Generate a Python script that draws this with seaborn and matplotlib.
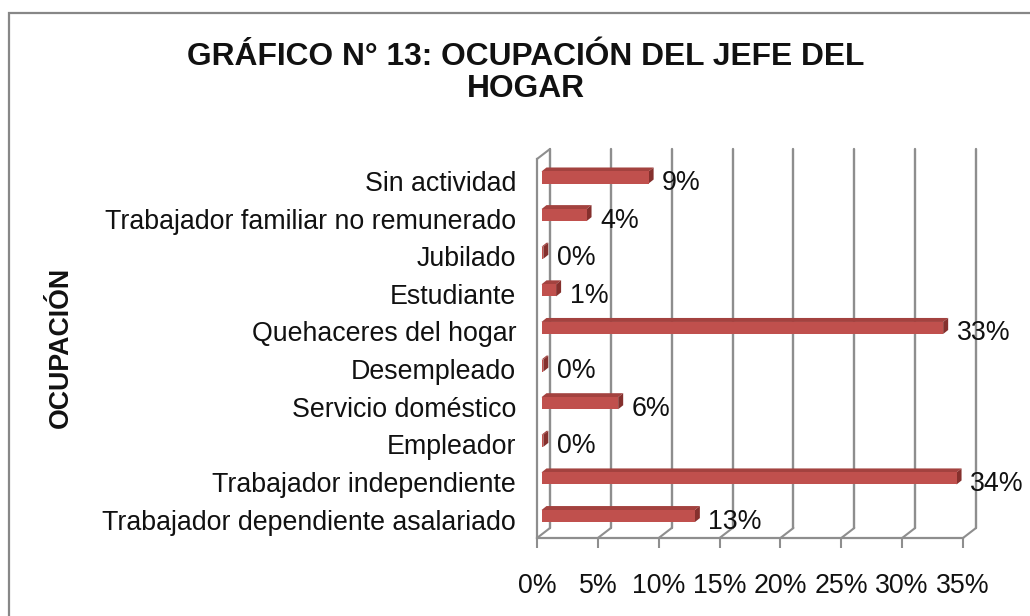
# ======== IMPORTS ========
import matplotlib
matplotlib.use("Agg")
import matplotlib.pyplot as plt
from matplotlib.patches import Polygon, Rectangle
from matplotlib.lines import Line2D
import numpy as np
import pandas as pd
import seaborn as sns

# ======== DATA ========
categories = [
    "Sin actividad",
    "Trabajador familiar no remunerado",
    "Jubilado",
    "Estudiante",
    "Quehaceres del hogar",
    "Desempleado",
    "Servicio doméstico",
    "Empleador",
    "Trabajador independiente",
    "Trabajador dependiente asalariado",
]
percentages = [8.8, 3.7, 0.15, 1.2, 33.0, 0.15, 6.3, 0.15, 34.1, 12.6]
x_ticks = [0, 5, 10, 15, 20, 25, 30, 35]

title_text = "GRÁFICO N° 13: OCUPACIÓN DEL JEFE DEL\nHOGAR"
ylabel_text = "OCUPACIÓN"

# ======== STYLE ========
sns.set_theme(style="white")
plt.rcParams["font.family"] = ["Liberation Sans", "DejaVu Sans"]

FRONT = "#C0504D"
TOP = "#A3423F"
SIDE = "#85302D"
GRID = "#8E8E8E"
FS = 19.3

WALL_DX, WALL_DY = 13, 10   # depth of the chart walls (pixels)
BAR_DX, BAR_DY = 4.5, 3.5   # where bars sit inside the depth
DEPTH_DX, DEPTH_DY = 5, 4   # depth of each bar

df = pd.DataFrame({"ocupacion": categories, "pct": percentages})

fig = plt.figure(figsize=(10.3, 6.16), dpi=100)
W, H = 1030, 616
ax = fig.add_axes([537 / W, 1 - 538 / H, 426 / W, 379 / H])

sns.barplot(data=df, x="pct", y="ocupacion", orient="h", color=FRONT,
            saturation=1, width=0.32, ax=ax, zorder=5)
ax.set_xlim(0, 35)
ax.set_ylim(9.49, -0.585)
ax.set_xlabel("")
ax.set_ylabel("")
ax.grid(False)
ax.set_facecolor("none")


def to_data(px, py):
    inv = ax.transData.inverted()
    pts = inv.transform(np.column_stack([px, py]))
    return pts[:, 0], pts[:, 1]


def to_disp(x, y):
    pts = ax.transData.transform(np.column_stack([x, y]))
    return pts[:, 0], pts[:, 1]


# ======== WALLS / GRIDLINES ========
y_floor, y_top = ax.get_ylim()
for t in x_ticks:
    fx, fy = to_disp([t, t], [y_floor, y_top])
    bx, by = to_data(fx + WALL_DX, fy + WALL_DY)
    ax.add_line(Line2D(bx, by, color=GRID, lw=1.7, clip_on=False, zorder=1))
    dx_, dy_ = to_data([fx[0], fx[0] + WALL_DX], [fy[0], fy[0] + WALL_DY])
    ax.add_line(Line2D(dx_, dy_, color=GRID, lw=1.5, clip_on=False, zorder=1))
# top-left corner of the side wall
fx, fy = to_disp([0, 0], [y_top, y_top])
cx, cy = to_data([fx[0], fx[0] + WALL_DX], [fy[0], fy[0] + WALL_DY])
ax.add_line(Line2D(cx, cy, color=GRID, lw=1.5, clip_on=False, zorder=1))

# ======== 3D BARS ========
for p in list(ax.patches):
    x0, y0 = p.get_x(), p.get_y()
    x1, y1 = x0 + p.get_width(), y0 + p.get_height()
    px, py = to_disp([x0, x1], [y0, y1])
    px = px + BAR_DX
    py = py + BAR_DY
    left, right = px.min(), px.max()
    bot, top = py.min(), py.max()
    # shift the front face
    fxd, fyd = to_data([left, right], [bot, top])
    p.set_x(fxd[0])
    p.set_width(fxd[1] - fxd[0])
    p.set_y(min(fyd))
    p.set_height(abs(fyd[1] - fyd[0]))
    p.set_edgecolor("none")
    top_x = [left, right, right + DEPTH_DX, left + DEPTH_DX]
    top_y = [top, top, top + DEPTH_DY, top + DEPTH_DY]
    side_x = [right, right, right + DEPTH_DX, right + DEPTH_DX]
    side_y = [bot, top, top + DEPTH_DY, bot + DEPTH_DY]
    tx, ty = to_data(top_x, top_y)
    sx, sy = to_data(side_x, side_y)
    ax.add_patch(Polygon(np.column_stack([tx, ty]), closed=True, fc=TOP,
                         ec="none", zorder=4, clip_on=False))
    ax.add_patch(Polygon(np.column_stack([sx, sy]), closed=True, fc=SIDE,
                         ec="none", zorder=4, clip_on=False))

# ======== DATA LABELS ========
for i, v in enumerate(percentages):
    ax.annotate(f"{v:.0f}%", xy=(v, i), xytext=(18, -2),
                textcoords="offset pixels", ha="left", va="center",
                fontsize=FS, color="#111111", zorder=6, annotation_clip=False)

# ======== AXES ========
for side in ["top", "right"]:
    ax.spines[side].set_visible(False)
for side in ["left", "bottom"]:
    ax.spines[side].set_color(GRID)
    ax.spines[side].set_linewidth(1.6)

ax.set_xticks(x_ticks)
ax.set_xticklabels([f"{t}%" for t in x_ticks])
ax.tick_params(axis="x", direction="out", length=7.2, width=1.5, color=GRID,
               pad=18, labelsize=FS, labelcolor="#111111", bottom=True)
ax.tick_params(axis="y", length=0, pad=15, labelsize=FS, labelcolor="#111111")

# ======== TEXT ========
fig.text(526 / W, 1 - 73 / H, title_text, ha="center", va="center",
         fontsize=22.9, fontweight="bold", linespacing=1.12, color="#111111")
fig.text(61 / W, 1 - 347 / H, ylabel_text, rotation=90, ha="center",
         va="center", fontsize=FS, fontweight="bold", color="#111111")

# chart frame
fig.add_artist(Rectangle((9 / W, -0.05), 1.2, 1.05 - 13 / H,
                         transform=fig.transFigure, fill=False,
                         ec="#878787", lw=1.6))

fig.savefig("out.png", dpi=100)
